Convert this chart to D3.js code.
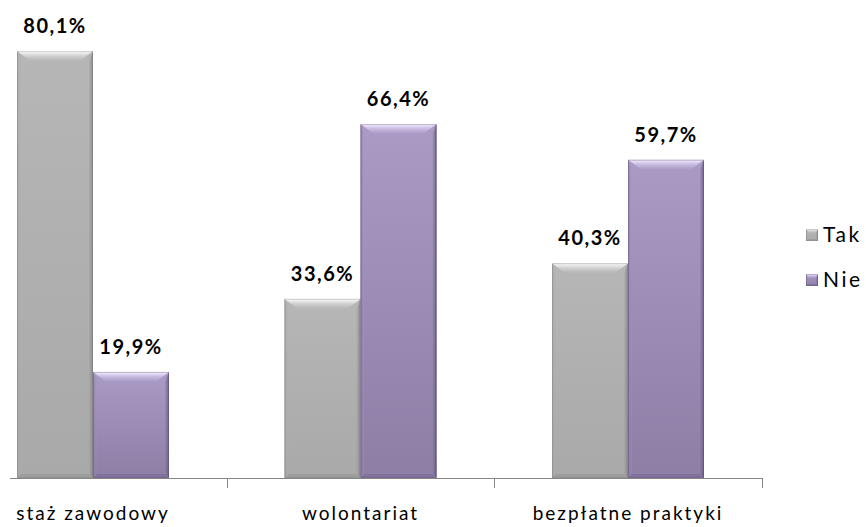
<!DOCTYPE html>
<html><head><meta charset="utf-8">
<script src="https://cdn.jsdelivr.net/npm/d3@7"></script>
<style>
html,body{margin:0;padding:0;background:#fff;}
svg{display:block;}
text{font-family:Lato, "Open Sans", sans-serif;}
</style></head>
<body>
<svg id="chart" width="866" height="527"></svg>
<script>
const categories = ["staż zawodowy", "wolontariat", "bezpłatne praktyki"];
const seriesNames = ["Tak", "Nie"];
const takValues = [80.1, 33.6, 40.3];
const nieValues = [19.9, 66.4, 59.7];
const valueLabels = [["80,1%", "33,6%", "40,3%"], ["19,9%", "66,4%", "59,7%"]];
const seriesValues = [takValues, nieValues];

const svg = d3.select("#chart");
const baseY = 478;

const x0 = d3.scaleBand().domain(categories).range([-40.75, 761.75]).paddingInner(0).paddingOuter(0);
const x1 = d3.scaleBand().domain(seriesNames).range([0, x0.bandwidth()]).paddingInner(0).paddingOuter(0.76);
const y = d3.scaleLinear().domain([0, 90]).range([baseY, baseY - 5.33 * 90]);

const colors = {
  Tak: {top: "#b6b6b6", bottom: "#a9a9a9", light: "#ffffff", mid: "#dcdcdc", side: "#9a9a9a", dark: "#7e7e7e"},
  Nie: {top: "#aa9bc5", bottom: "#8d7ea6", light: "#f8f0ff", mid: "#d3c6ea", side: "#7f6f99", dark: "#5f5275"}
};

const defs = svg.append("defs");
seriesNames.forEach(s => {
  const c = colors[s];
  const g = defs.append("linearGradient").attr("id", "grad-" + s).attr("x1", 0).attr("y1", 0).attr("x2", 0).attr("y2", 1);
  g.append("stop").attr("offset", "0%").attr("stop-color", c.top);
  g.append("stop").attr("offset", "100%").attr("stop-color", c.bottom);
  const t = defs.append("linearGradient").attr("id", "top-" + s).attr("x1", 0).attr("y1", 0).attr("x2", 0).attr("y2", 1);
  t.append("stop").attr("offset", "0%").attr("stop-color", c.light).attr("stop-opacity", 1);
  t.append("stop").attr("offset", "35%").attr("stop-color", c.mid).attr("stop-opacity", 1);
  t.append("stop").attr("offset", "100%").attr("stop-color", c.top).attr("stop-opacity", 0.6);
  const r = defs.append("linearGradient").attr("id", "right-" + s).attr("x1", 0).attr("y1", 0).attr("x2", 1).attr("y2", 0);
  r.append("stop").attr("offset", "0%").attr("stop-color", c.side).attr("stop-opacity", 0.2);
  r.append("stop").attr("offset", "100%").attr("stop-color", c.dark).attr("stop-opacity", 0.9);
  const l = defs.append("linearGradient").attr("id", "left-" + s).attr("x1", 0).attr("y1", 0).attr("x2", 1).attr("y2", 0);
  l.append("stop").attr("offset", "0%").attr("stop-color", c.side).attr("stop-opacity", 0.7);
  l.append("stop").attr("offset", "100%").attr("stop-color", c.top).attr("stop-opacity", 0.1);
});

function drawBar(g, s, x, w, yTop, yBot, small) {
  const c = colors[s];
  const bt = small ? 4 : 10, bs = small ? 2 : 4, bb = small ? 2 : 4;
  g.append("rect").attr("x", x).attr("y", yTop).attr("width", w).attr("height", yBot - yTop).attr("fill", `url(#grad-${s})`);
  g.append("polygon").attr("points", [[x, yTop], [x + bs, yTop + bt], [x + bs, yBot - bb], [x, yBot]].join(" ")).attr("fill", `url(#left-${s})`);
  g.append("polygon").attr("points", [[x + w, yTop], [x + w - bs, yTop + bt], [x + w - bs, yBot - bb], [x + w, yBot]].join(" ")).attr("fill", `url(#right-${s})`);
  g.append("polygon").attr("points", [[x, yBot], [x + bs, yBot - bb], [x + w - bs, yBot - bb], [x + w, yBot]].join(" ")).attr("fill", c.side).attr("opacity", 0.8);
  const k = small ? 1 : 2.2;
  g.append("polygon").attr("points", [[x, yTop], [x + w, yTop], [x + w - bt * k * 0.6, yTop + bt], [x + bt * k * 0.6, yTop + bt]].join(" ")).attr("fill", `url(#top-${s})`);
  g.append("rect").attr("x", x + 0.5).attr("y", yTop + 0.5).attr("width", w - 1).attr("height", yBot - yTop - 1)
    .attr("fill", "none").attr("stroke", c.dark).attr("stroke-opacity", 0.35).attr("stroke-width", 1);
}

const barsG = svg.append("g");
categories.forEach((cat, i) => {
  seriesNames.forEach((s, j) => {
    const v = seriesValues[j][i];
    const x = x0(cat) + x1(s);
    const w = x1.bandwidth();
    const yTop = y(v);
    drawBar(barsG, s, x, w, yTop, baseY, false);
    svg.append("text")
      .attr("x", x + w / 2).attr("y", yTop - 18)
      .attr("text-anchor", "middle")
      .attr("font-weight", "bold").attr("font-size", 20).attr("letter-spacing", "1.5px")
      .attr("fill", "#000")
      .text(valueLabels[j][i]);
  });
});

const axisG = svg.append("g");
axisG.append("line").attr("x1", 10).attr("x2", x0.range()[1] + 1).attr("y1", baseY + 0.5).attr("y2", baseY + 0.5)
  .attr("stroke", "#868686").attr("stroke-width", 1);
categories.forEach(c => {
  const tx = Math.round(x0(c) + x0.bandwidth());
  axisG.append("line").attr("x1", tx + 0.5).attr("x2", tx + 0.5).attr("y1", baseY).attr("y2", baseY + 10)
    .attr("stroke", "#868686").attr("stroke-width", 1);
});
categories.forEach(cat => {
  axisG.append("text").attr("x", x0(cat) + x0.bandwidth() / 2).attr("y", 520)
    .attr("text-anchor", "middle").attr("font-size", 19).attr("letter-spacing", "2px").attr("fill", "#000")
    .text(cat);
});

const legend = svg.append("g");
seriesNames.forEach((s, j) => {
  const ly = 229 + j * 45;
  drawBar(legend, s, 806, 12, ly, ly + 12, true);
  legend.append("text").attr("x", 823).attr("y", ly + 13).attr("font-size", 21).attr("letter-spacing", "2.5px")
    .attr("fill", "#000").text(s);
});
</script>
</body></html>
